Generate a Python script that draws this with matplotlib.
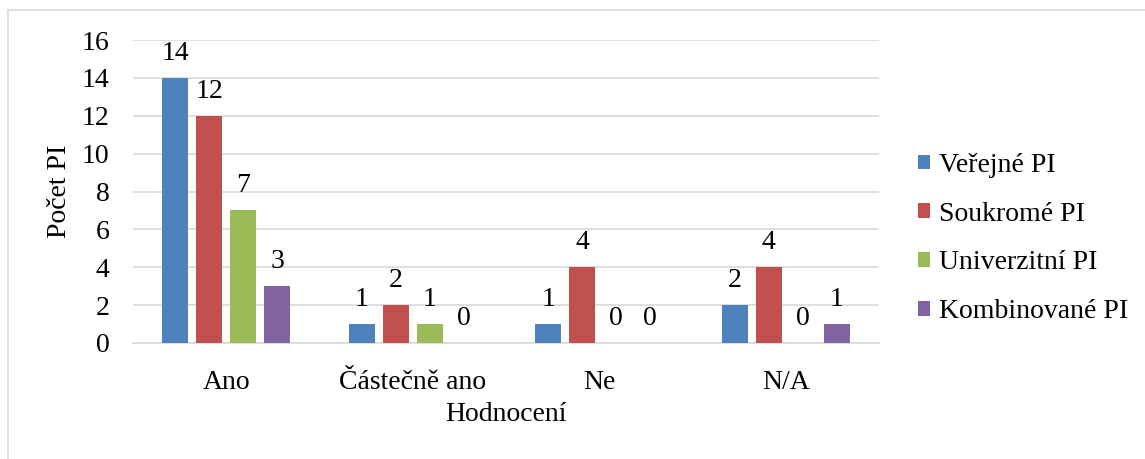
import matplotlib
matplotlib.use("Agg")
import matplotlib.pyplot as plt
from matplotlib.patches import Rectangle, Patch
import numpy as np

categories = ["Ano", "Částečně ano", "Ne", "N/A"]
series_names = ["Veřejné PI", "Soukromé PI", "Univerzitní PI", "Kombinované PI"]
verejne = [14, 1, 1, 2]
soukrome = [12, 2, 4, 4]
univerzitni = [7, 1, 0, 0]
kombinovane = [3, 0, 0, 1]
colors = ["#4f81bd", "#c0504d", "#9bbb59", "#8064a2"]
yticks = [0, 2, 4, 6, 8, 10, 12, 14, 16]

plt.rcParams['font.family'] = ['Liberation Serif', 'DejaVu Serif']
FS = 20

W, H = 1145, 459
fig = plt.figure(figsize=(W / 100, H / 100), dpi=100)
ax = fig.add_axes([133 / W, (H - 343) / H, (879 - 133) / W, (343 - 40) / H])

series = [verejne, soukrome, univerzitni, kombinovane]
x = np.arange(len(categories))
cat_px = 186.5
bw = 26 / cat_px
step = 34 / cat_px
for i, (vals, c) in enumerate(zip(series, colors)):
    pos = x + (i - 1.5) * step
    ax.bar(pos, vals, width=bw, color=c, zorder=3)
    for p, v in zip(pos, vals):
        ax.annotate(str(v), (p, v), xytext=(0, 13), textcoords='offset points',
                    ha='center', va='baseline', fontsize=FS, color='black')

ax.set_xlim(-0.5, 3.5)
ax.set_ylim(0, 16)
ax.set_yticks(yticks)
ax.set_yticklabels([str(t) for t in yticks], fontsize=FS)
ax.set_xticks(x)
ax.set_xticklabels(categories, fontsize=FS)
ax.tick_params(axis='y', length=0, pad=17)
ax.tick_params(axis='x', length=0, pad=19.5)
ax.grid(axis='y', color='#d9d9d9', linewidth=1.2, zorder=0)
for s in ['top', 'right', 'left']:
    ax.spines[s].set_visible(False)
ax.spines['bottom'].set_color('#d9d9d9')
ax.spines['bottom'].set_linewidth(1.2)
ax.set_ylabel("Počet PI", fontsize=FS, labelpad=7)
ax.set_xlabel("Hodnocení", fontsize=FS, labelpad=5)

handles = [Patch(facecolor=c, edgecolor='none') for c in colors]
fig.legend(handles, series_names, loc='center left', bbox_to_anchor=(918 / W, 1 - 238.5 / H),
           frameon=False, fontsize=FS, handlelength=0.42, handleheight=0.42,
           handletextpad=0.32, labelspacing=0.86, borderpad=0, borderaxespad=0)

fig.patches.append(Rectangle((8 / W, -0.05), 1.1, (H - 10) / H + 0.05, transform=fig.transFigure,
                             fill=False, edgecolor='#d9d9d9', linewidth=1.2))

fig.savefig("out.png", dpi=100)
